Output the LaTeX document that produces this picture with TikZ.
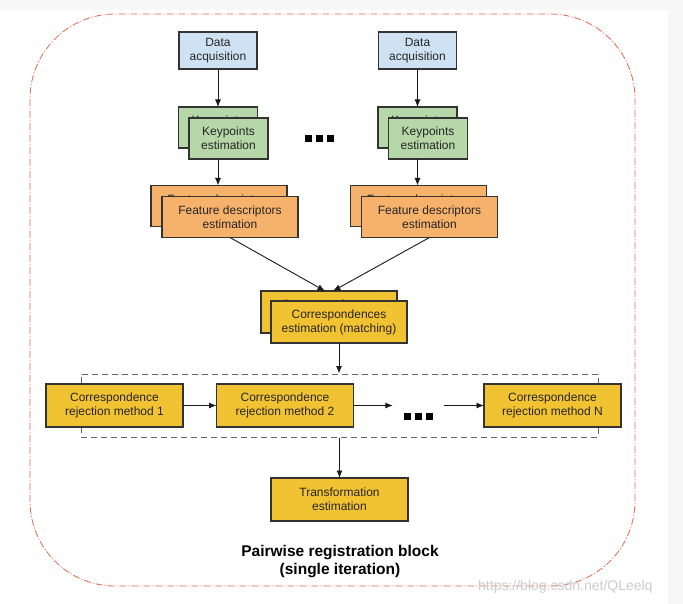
\documentclass[tikz,border=0pt]{standalone}
\usepackage{fontspec}
\setmainfont{Liberation Sans}
\usepackage{tikz}
\usetikzlibrary{arrows.meta,positioning,calc}
\definecolor{acqblue}{HTML}{CFE2F3}
\definecolor{kpgreen}{HTML}{B6D7A8}
\definecolor{featorange}{HTML}{F6B26B}
\definecolor{corryellow}{HTML}{F1C232}
\definecolor{boxline}{HTML}{333333}
\definecolor{blockred}{HTML}{E06650}
\tikzset{
    box/.style={draw=boxline, line width=1.2pt, text=black!85, align=center, font=\fontsize{12}{14}\selectfont, inner sep=0pt, outer sep=0pt},
    acq/.style={box, fill=acqblue, minimum width=78pt, minimum height=37pt},
    kp/.style={box, fill=kpgreen, minimum width=79pt, minimum height=41pt},
    feat/.style={box, fill=featorange, minimum width=136pt, minimum height=41pt},
    corr/.style={box, fill=corryellow, minimum width=137pt, minimum height=43pt},
    flow/.style={-{Latex[length=7.5pt, width=6pt]}, line width=0.9pt, black!90},
    group/.style={draw=black!60, dash pattern=on 6pt off 4pt, line width=1pt, inner sep=0pt},
    block/.style={draw=blockred, line width=0.8pt, dash pattern=on 7pt off 2pt on 1pt off 2pt, rounded corners=85pt}
}
\newcommand{\sqdots}{\rule{7pt}{7pt}\hspace{4pt}\rule{7pt}{7pt}\hspace{4pt}\rule{7pt}{7pt}}

\begin{document}
\begin{tikzpicture}[x=1pt, y=-1pt, node distance=38pt]
    \fill[black!3] (0,0) rectangle (683,604);
    \fill[white] (0,10) rectangle (668,604);
    \useasboundingbox (0,0) rectangle (683,604);
    \draw[block] (30,14) rectangle (635,586);

    \node[acq] (dl) at (218,50.5) {Data\\acquisition};
    \node[acq] (dr) at (417.5,50.5) {Data\\acquisition};
    \node[kp, below=of dl] (kl) {Keypoints\\estimation};
    \node[kp] (klf) at ([shift={(10.5pt,-11pt)}]kl) {Keypoints\\estimation};
    \node[kp, below=of dr] (kr) {Keypoints\\estimation};
    \node[kp] (krf) at ([shift={(10.5pt,-11pt)}]kr) {Keypoints\\estimation};
    \node[inner sep=0pt] (dt) at (319,138.5) {\sqdots};

    \node[feat] (fl) at (219,206) {Feature descriptors\\estimation};
    \node[feat] (flf) at ([shift={(11pt,-11pt)}]fl) {Feature descriptors\\estimation};
    \node[feat] (fr) at (418.5,206) {Feature descriptors\\estimation};
    \node[feat] (frf) at ([shift={(11pt,-11pt)}]fr) {Feature descriptors\\estimation};

    \node[corr, minimum width=136pt, minimum height=42pt] (cb) at (329,312) {Correspondences\\estimation (matching)};
    \node[corr, minimum width=136pt, minimum height=42pt] (cf) at ([shift={(10pt,-10pt)}]cb) {Correspondences\\estimation (matching)};

    \node[group, minimum width=517pt, minimum height=63pt] (rg) at (339.5,405.5) {};
    \node[corr] (r1) at (114.5,405.5) {Correspondence\\rejection method 1};
    \node[corr] (r2) at (285,405.5) {Correspondence\\rejection method 2};
    \node[inner xsep=11pt, inner ysep=0pt] (dm) at (418.5,416.5) {\sqdots};
    \node[corr] (rn) at (552.5,405.5) {Correspondence\\rejection method N};

    \node[corr] (tr) at (339.5,499.5) {Transformation\\estimation};

    \node[font=\bfseries\fontsize{15.5}{18}\selectfont, align=center] (title) at (340,562) {Pairwise registration block\\(single iteration)};
    \node[text=black!20, font=\fontsize{14}{16}\selectfont, anchor=west, inner sep=0pt] (mark) at (478,587) {https://blog.csdn.net/QLeelq};

    \draw[flow] (dl) -- (kl);
    \draw[flow] (dr) -- (kr);
    \draw[flow] (klf.south -| kl) -- (fl.north -| kl);
    \draw[flow] (krf.south -| kr) -- (fr.north -| kr);
    \draw[flow] (flf.south) -- ($(cb.north)+(-4,0)$);
    \draw[flow] (frf.south) -- ($(cb.north)+(4,0)$);
    \draw[flow] (cf.south) -- (cf.south |- rg.north);
    \draw[flow] (r1) -- (r2);
    \draw[flow] (r2) -- (r2 -| dm.west);
    \draw[flow] (dm.east |- rn) -- (rn);
    \draw[flow] (rg.south -| tr) -- (tr);
\end{tikzpicture}
\end{document}
